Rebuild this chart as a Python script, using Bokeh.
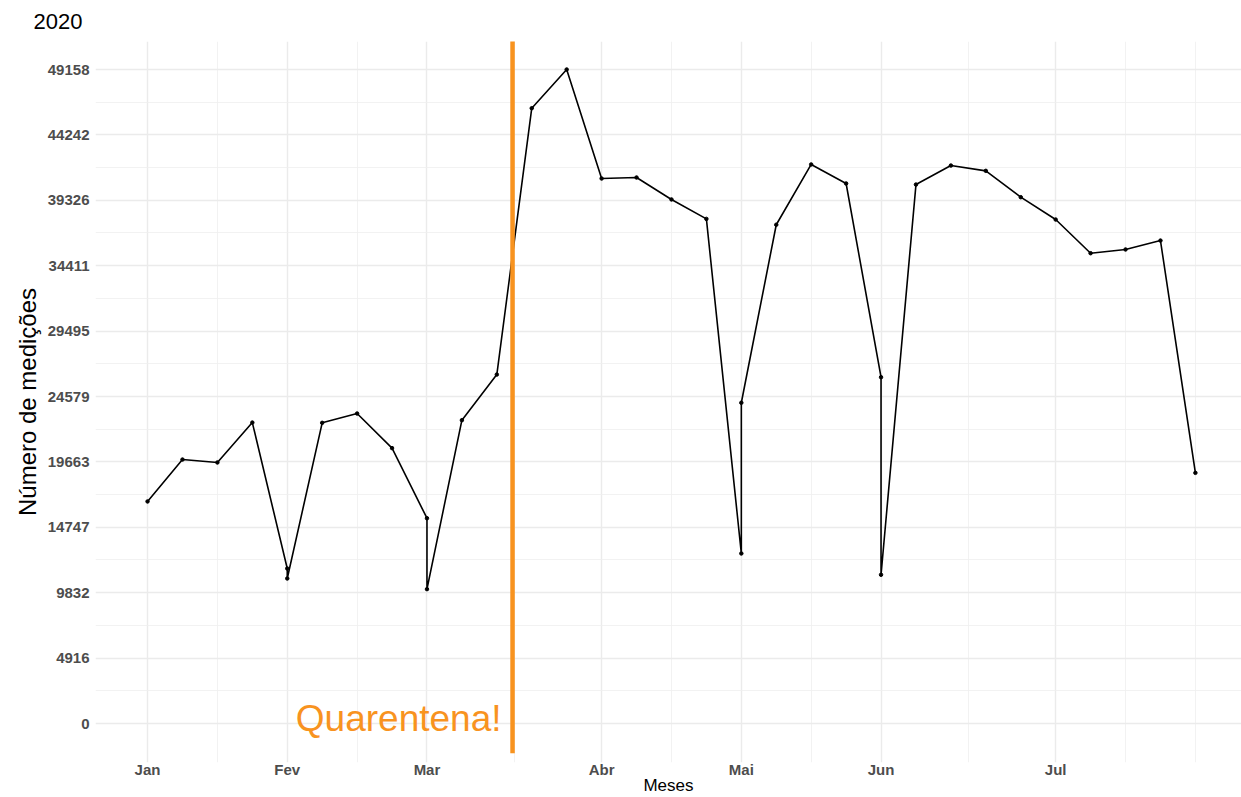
from bokeh.plotting import figure
from bokeh.models import Range1d, FixedTicker, Label
from bokeh.embed import file_html
from bokeh.resources import INLINE

# ---------------- data ----------------
# x position of each observation (week index, month starts repeat)
semana = [0, 1, 2, 3, 4, 4, 5, 6, 7, 8, 8, 9, 10, 11, 12, 13, 14, 15, 16,
          17, 17, 18, 19, 20, 21, 21, 22, 23, 24, 25, 26, 27, 28, 29, 30]
medicoes = [16690, 19840, 19620, 22620, 11650, 10900, 22600, 23300, 20700,
            15430, 10100, 22800, 26230, 46250, 49158, 40965, 41040, 39390,
            37930, 12780, 24110, 37490, 42020, 40590, 26030, 11180, 40510,
            41940, 41540, 39560, 37880, 35350, 35630, 36300, 18840]

mes_pos = [0, 4, 8, 13, 17, 21, 26]
mes_labels = ["Jan", "Fev", "Mar", "Abr", "Mai", "Jun", "Jul"]
x_minor = [2, 6, 10.5, 15, 19, 23.5, 28, 30]

y_ticks = [0, 4916, 9832, 14747, 19663, 24579, 29495, 34411, 39326, 44242, 49158]
y_labels = ["0", "4916", "9832", "14747", "19663", "24579", "29495",
            "34411", "39326", "44242", "49158"]
y_minor = [2458, 7374, 12290, 17205, 22121, 27037, 31953, 36869, 41784, 46700]

quarentena_x = 10.45
quarentena_y = [-2232, 60000]

FONT = "Liberation Sans"
ORANGE = "#F8931F"

p = figure(width=1241, height=797, output_backend="svg", toolbar_location=None,
           title="2020",
           x_range=Range1d(-1.49, 31.32), y_range=Range1d(-2931, 51263),
           min_border_left=95, min_border_right=0, min_border_top=41,
           min_border_bottom=0, outline_line_color=None,
           background_fill_color="white", border_fill_color="white")

p.title.text_font = FONT
p.title.text_font_size = "22px"
p.title.text_font_style = "normal"
p.title.text_color = "black"
p.title.align = "left"
p.title.offset = -62
p.title.vertical_align = "top"
p.title.standoff = 21

# grids
for g in (p.xgrid, p.ygrid):
    g.grid_line_color = "#EBEBEB"
    g.grid_line_width = 1.4
    g.minor_grid_line_color = "#EFEFEF"
    g.minor_grid_line_width = 0.8

# axes
p.xaxis.ticker = FixedTicker(ticks=mes_pos, minor_ticks=x_minor)
p.xaxis.major_label_overrides = dict(zip(mes_pos, mes_labels))
p.yaxis.ticker = FixedTicker(ticks=y_ticks, minor_ticks=y_minor)
p.yaxis.major_label_overrides = dict(zip(y_ticks, y_labels))

for ax in (p.xaxis, p.yaxis):
    ax.axis_line_color = None
    ax.major_tick_line_color = None
    ax.minor_tick_line_color = None
    ax.major_tick_in = 0
    ax.major_tick_out = 0
    ax.minor_tick_in = 0
    ax.minor_tick_out = 0
    ax.major_label_text_font = FONT
    ax.major_label_text_font_style = "bold"
    ax.major_label_text_font_size = "15px"
    ax.major_label_text_color = "#4D4D4D"
    ax.axis_label_text_font = FONT
    ax.axis_label_text_font_style = "normal"
    ax.axis_label_text_color = "black"

p.xaxis.axis_label = "Meses"
p.xaxis.axis_label_text_font_size = "17px"
p.xaxis.major_label_standoff = -2
p.xaxis.axis_label_standoff = -5

p.yaxis.axis_label = "Número de medições"
p.yaxis.axis_label_text_font_size = "24px"
p.yaxis.major_label_standoff = 6
p.yaxis.axis_label_standoff = 4

# data
p.line(semana, medicoes, line_color="black", line_width=1.6)
p.scatter(semana, medicoes, size=3.5, color="black")

# quarantine line
p.segment(x0=[quarentena_x], y0=[quarentena_y[0]], x1=[quarentena_x],
          y1=[quarentena_y[1]], line_color=ORANGE, line_width=4.5)

p.add_layout(Label(x=quarentena_x, x_offset=-11, y=376, text="Quarentena!",
                   text_align="right", text_baseline="middle",
                   text_font=FONT, text_font_size="37px", text_color=ORANGE))

open("out.html", "w").write(file_html(p, INLINE))
